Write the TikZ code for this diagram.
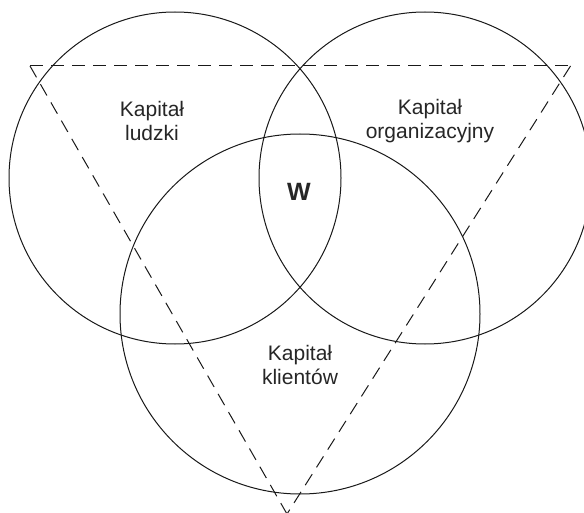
\documentclass[tikz,border=0pt]{standalone}
\usepackage{fontspec}
\setmainfont{Liberation Sans}
\begin{document}
\begin{tikzpicture}[x=1pt,y=-1pt,
  ring/.style={circle, draw=black!90, line width=1pt, inner sep=0pt},
  lbl/.style={align=center, font=\fontsize{21}{24.5}\selectfont, text=black!85},
  tri/.style={draw=black!90, line width=1pt, dash pattern=on 13pt off 8pt}]
\useasboundingbox (0,0) rectangle (584,513);
\clip (0,0) rectangle (584,513);
\node[ring, minimum size=332pt] (L) at (175,178) {};
\node[ring, minimum size=332pt] (R) at (425,178) {};
\node[ring, minimum size=360pt] (B) at (300,314) {};
\coordinate (T1) at (30,66);
\coordinate (T2) at (570.5,66);
\coordinate (T3) at (287,514);
\draw[tri] (T1) -- (T2);
\draw[tri] (T1) -- (T3);
\draw[tri] (T2) -- (T3);
\node[lbl] (ludzki) at (152,121) {Kapitał\\ludzki};
\node[lbl] (org) at (430,121) {Kapitał\\organizacyjny};
\node[lbl] (kl) at (300,365) {Kapitał\\klientów};
\node[font=\fontsize{25}{29}\selectfont\bfseries, text=black!85] (W) at (299,192) {W};
\end{tikzpicture}
\end{document}
